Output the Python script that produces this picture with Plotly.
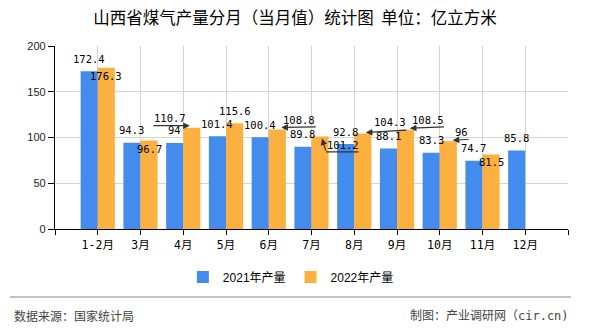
import plotly.graph_objects as go

# ---- data ----
categories = ["1-2月", "3月", "4月", "5月", "6月", "7月", "8月", "9月", "10月", "11月", "12月"]
values_2021 = [172.4, 94.3, 94, 101.4, 100.4, 89.8, 92.8, 88.1, 83.3, 74.7, 85.8]
values_2022 = [176.3, 96.7, 110.7, 115.6, 108.8, 101.2, 104.3, 108.5, 96, 81.5, None]
series_names = ["2021年产量", "2022年产量"]
title_text = "山西省煤气产量分月（当月值）统计图  单位：亿立方米"
source_text = "数据来源：国家统计局"
credit_text = "制图：产业调研网（cir.cn)"

# ---- styles ----
BLUE = "#438CEE"
ORANGE = "#FBB03F"
GRID = "#d4d4d4"
MONO = "DejaVu Sans Mono, Noto Sans CJK SC"
CJK = "Noto Sans CJK SC"

# label placement styles for 2022 series (pixel offsets relative to bar top centre, screen y down)
label_style_2022 = [
    ("in",),
    ("in",),
    ("arrow", (-22, -9.5), (-2, -2), (-40, -2)),
    ("top",),
    ("arrow", (22, -9.6), (4, -2), (40, -2.5)),
    ("elbow", (23, 9), (2, 2), (6, 15.4), (40, 15.4)),
    ("arrow", (27, -12), (3, -1), (45, -3.5)),
    ("arrow", (22, -10), (4.3, -1.5), (40, -3)),
    ("arrow", (13.5, -9.6), (4.4, -0.8), (22, -2)),
    ("in",),
    ("top",),
]

n = len(categories)
xs = list(range(n))

fig = go.Figure()
fig.add_trace(go.Bar(x=xs, y=values_2021, name=series_names[0], marker_color=BLUE,
                     marker_line_width=0))
fig.add_trace(go.Bar(x=xs, y=values_2022, name=series_names[1], marker_color=ORANGE,
                     marker_line_width=0))


def fmt(v):
    return ("%g" % v)


annotations = []
label_font = dict(family=MONO, size=10.5, color="#000")


def text_ann(x, y, txt, dx, dy):
    annotations.append(dict(x=x, y=y, xref="x", yref="y", text=txt, showarrow=False,
                            xshift=dx, yshift=-dy, font=label_font,
                            xanchor="center", yanchor="middle"))


def arrow_ann(x, y, head, tail, arrowhead=2):
    annotations.append(dict(x=x, y=y, xref="x", yref="y", text="", showarrow=True,
                            xshift=head[0], yshift=-head[1],
                            ax=tail[0] - head[0], ay=tail[1] - head[1],
                            arrowhead=arrowhead, arrowsize=1.1, arrowwidth=1.2,
                            arrowcolor="#333"))


for i, v in enumerate(values_2021):
    if v is None:
        continue
    text_ann(i - 0.2, v, fmt(v), 0, -12.5)

for i, v in enumerate(values_2022):
    if v is None:
        continue
    st = label_style_2022[i]
    x = i + 0.2
    if st[0] == "top":
        text_ann(x, v, fmt(v), 0, -12.5)
    elif st[0] == "in":
        text_ann(x, v, fmt(v), 0, 8)
    elif st[0] == "arrow":
        _, t, h, tl = st
        text_ann(x, v, fmt(v), t[0], t[1])
        arrow_ann(x, v, h, tl)
    elif st[0] == "elbow":
        _, t, h, e, tl = st
        text_ann(x, v, fmt(v), t[0], t[1])
        arrow_ann(x, v, h, e)
        arrow_ann(x, v, e, tl, arrowhead=0)

# footer
annotations.append(dict(x=(11.7 - 55) / 513, y=(229.3 - 316.7) / 183, xref="paper", yref="paper",
                        text=source_text, showarrow=False, xanchor="left", yanchor="middle",
                        font=dict(family=MONO, size=12, color="#444")))
annotations.append(dict(x=(571 - 55) / 513, y=(229.3 - 316.7) / 183, xref="paper", yref="paper",
                        text=credit_text, showarrow=False, xanchor="right", yanchor="middle",
                        font=dict(family=MONO, size=12, color="#444")))

shapes = [dict(type="line", xref="paper", yref="paper",
               x0=(10 - 55) / 513, x1=(571 - 55) / 513,
               y0=(229.3 - 297.3) / 183, y1=(229.3 - 297.3) / 183,
               line=dict(color="#888", width=1.2))]

tickvals = [-1] + xs + [n]
ticktext = [""] + categories + [""]

fig.update_layout(
    width=590, height=330,
    margin=dict(l=55, r=22, t=46, b=101, autoexpand=False),
    paper_bgcolor="white", plot_bgcolor="white",
    barmode="group", bargap=0.2, bargroupgap=0,
    title=dict(text=title_text, x=0.5, xref="container", xanchor="center",
               y=1 - 18 / 330, yref="container", yanchor="middle",
               font=dict(family=CJK, size=16.5, color="#000")),
    legend=dict(orientation="h", xref="container", yref="container",
                x=0.493, xanchor="center", y=1 - 277 / 330, yanchor="middle",
                font=dict(family="Liberation Sans, Noto Sans CJK SC", size=12, color="#000"),
                itemwidth=30, traceorder="normal"),
    annotations=annotations,
    shapes=shapes,
    showlegend=True,
)

fig.update_xaxes(range=[-1, n], tickmode="array", tickvals=tickvals, ticktext=ticktext,
                 showgrid=True, gridcolor=GRID, gridwidth=1, zeroline=False,
                 showline=True, linecolor="#000", linewidth=1.2, automargin=False,
                 ticks="outside", ticklen=5, tickcolor="#000",
                 tickfont=dict(family=MONO, size=11.5, color="#000"))
fig.update_yaxes(range=[0, 200], dtick=50, tick0=0,
                 showgrid=True, gridcolor=GRID, gridwidth=1, zeroline=False,
                 showline=True, linecolor="#000", linewidth=1.2, automargin=False,
                 ticks="outside", ticklen=6, tickcolor="#000",
                 tickfont=dict(family="Liberation Sans", size=11, color="#222"))

fig.write_html("out.html")
